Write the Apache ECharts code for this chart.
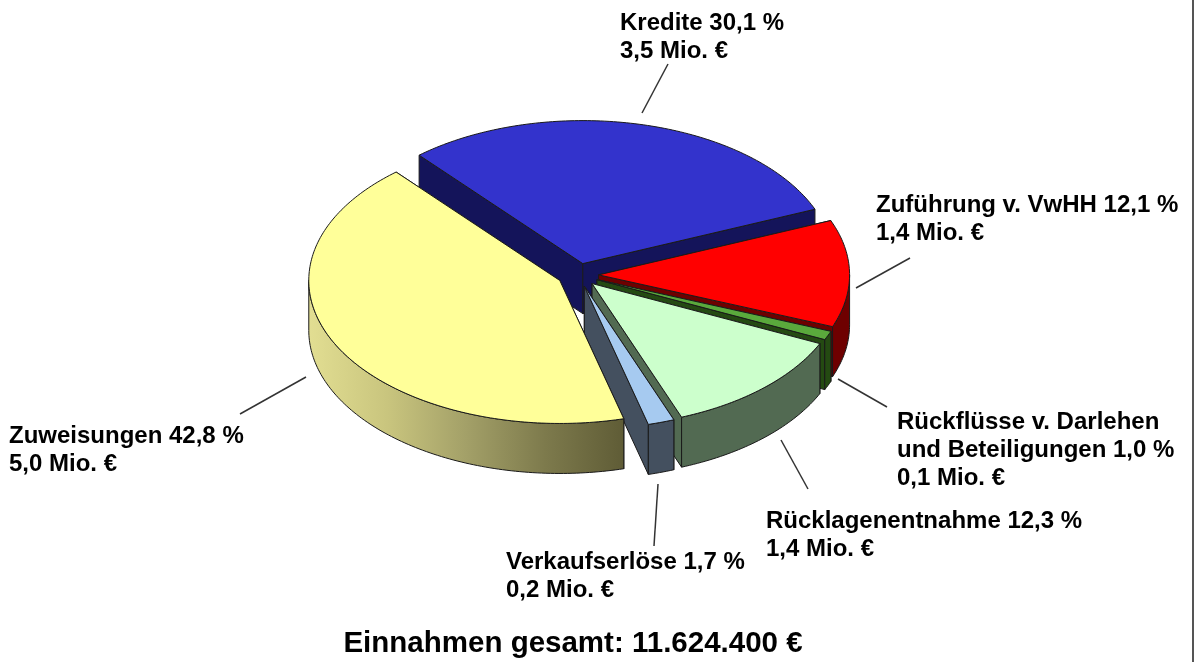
<!DOCTYPE html>
<html>
<head>
<meta charset="utf-8">
<style>
  html, body { margin: 0; padding: 0; background: #fff; }
  #chart { width: 1194px; height: 662px; }
</style>
<script src="https://cdn.jsdelivr.net/npm/echarts@6/dist/echarts.min.js"></script>
</head>
<body>
<div id="chart"></div>
<script>
const categories = ['Kredite', 'Zuführung v. VwHH', 'Rückflüsse v. Darlehen\nund Beteiligungen', 'Rücklagenentnahme', 'Verkaufserlöse', 'Zuweisungen']
const percents = [30.1, 12.1, 1.0, 12.3, 1.7, 42.8]
const millions = [3.5, 1.4, 0.1, 1.4, 0.2, 5.0]
const totalText = 'Einnahmen gesamt: 11.624.400 €'

const topColors = ['#3333cc', '#ff0000', '#5aa93c', '#ccffcc', '#a6caf0', '#ffff99']
const wallColors = ['#14145a', '#6e0000', '#244a12', '#526a52', '#44505f', null]
const yellowWall = ['#e2de92', '#c9c57e', '#a3a068', '#7d7a4c', '#5f5c36']

// pie geometry, the walls are faked by shifting the ellipse down
const cx = 578
const cy = 275
const rx = 251
const ry = 143
const explode = 0.082
const depth = 50
const startAngle = -40.7

// label anchor and leader line per slice
const labelPos = [[620, 9], [876, 191], [897, 408], [766, 507], [506, 548], [9, 422]]
const leaders = [
  [[642, 113], [668, 64]],
  [[856, 288], [910, 258]],
  [[838, 379], [887, 407]],
  [[781, 440], [808, 489]],
  [[658, 484], [654, 546]],
  [[306, 377], [240, 414]]
]

const fmt = v => v.toFixed(1).replace('.', ',')
const total = percents.reduce((a, b) => a + b, 0)

function sliceAngles(idx) {
  let start = startAngle
  for (let i = 0; i < idx; i++) start += percents[i] / total * 360
  return [start, start + percents[idx] / total * 360]
}

function renderSlice(params, api) {
  const i = params.dataIndex
  const [a0, a1] = sliceAngles(i)
  const mid = (a0 + a1) / 2 * Math.PI / 180
  const ox = cx + Math.sin(mid) * rx * explode
  const oy = cy - Math.cos(mid) * ry * explode
  const pt = (deg, dy) => {
    const t = deg * Math.PI / 180
    return [ox + Math.sin(t) * rx, oy - Math.cos(t) * ry + (dy || 0)]
  }
  const arc = (from, to, dy) => {
    const pts = []
    const n = Math.max(2, Math.ceil(Math.abs(to - from)))
    for (let k = 0; k <= n; k++) pts.push(pt(from + (to - from) * k / n, dy))
    return pts
  }
  const line = { stroke: '#1a1a1a', lineWidth: 1, lineJoin: 'round' }
  const wall = wallColors[i] || new echarts.graphic.LinearGradient(0, 0, 1, 0,
    yellowWall.map((c, k) => ({ offset: k / (yellowWall.length - 1), color: c })))
  const poly = (points, fill) => ({
    type: 'polygon',
    shape: { points },
    style: Object.assign({ fill }, line)
  })

  const children = []
  const apex = [ox, oy]
  const apexLow = [ox, oy + depth]
  // cut faces
  children.push(poly([apex, pt(a0), pt(a0, depth), apexLow], wall))
  children.push(poly([apex, pt(a1), pt(a1, depth), apexLow], wall))
  // outer wall, only the front part of the rim is visible
  const w0 = Math.max(a0, 90)
  const w1 = Math.min(a1, 270)
  if (w1 > w0) {
    children.push(poly(arc(w0, w1).concat(arc(w1, w0, depth)), wall))
  }
  // top
  children.push(poly([apex].concat(arc(a0, a1)), topColors[i]))
  return { type: 'group', children }
}

const chart = echarts.init(document.getElementById('chart'), null, { renderer: 'canvas' })

const labelFont = { fontFamily: '"Liberation Sans", Arial, sans-serif', fontWeight: 'bold', fontSize: 24, lineHeight: 28, fill: '#000' }

chart.setOption({
  animation: false,
  backgroundColor: '#fff',
  series: [{
    type: 'custom',
    coordinateSystem: 'none',
    renderItem: renderSlice,
    data: percents.map((p, i) => ({ name: categories[i], value: p })),
    silent: true
  }],
  graphic: {
    elements: [
      {
        type: 'rect',
        shape: { x: 1192, y: 0, width: 2, height: 662 },
        style: { fill: '#555' },
        silent: true
      },
      ...leaders.map(l => ({
        type: 'line',
        shape: { x1: l[0][0], y1: l[0][1], x2: l[1][0], y2: l[1][1] },
        style: { stroke: '#333', lineWidth: 1.5 },
        silent: true
      })),
      ...categories.map((c, i) => ({
        type: 'text',
        x: labelPos[i][0],
        y: labelPos[i][1],
        silent: true,
        style: Object.assign({
          text: c + ' ' + fmt(percents[i]) + ' %\n' + fmt(millions[i]) + ' Mio. €',
          textAlign: 'left',
          textVerticalAlign: 'top'
        }, labelFont)
      })),
      {
        type: 'text',
        x: 573,
        y: 629,
        silent: true,
        style: Object.assign({}, labelFont, {
          text: totalText,
          fontSize: 29.5,
          lineHeight: 30,
          textAlign: 'center',
          textVerticalAlign: 'top'
        })
      }
    ]
  }
})
</script>
</body>
</html>
